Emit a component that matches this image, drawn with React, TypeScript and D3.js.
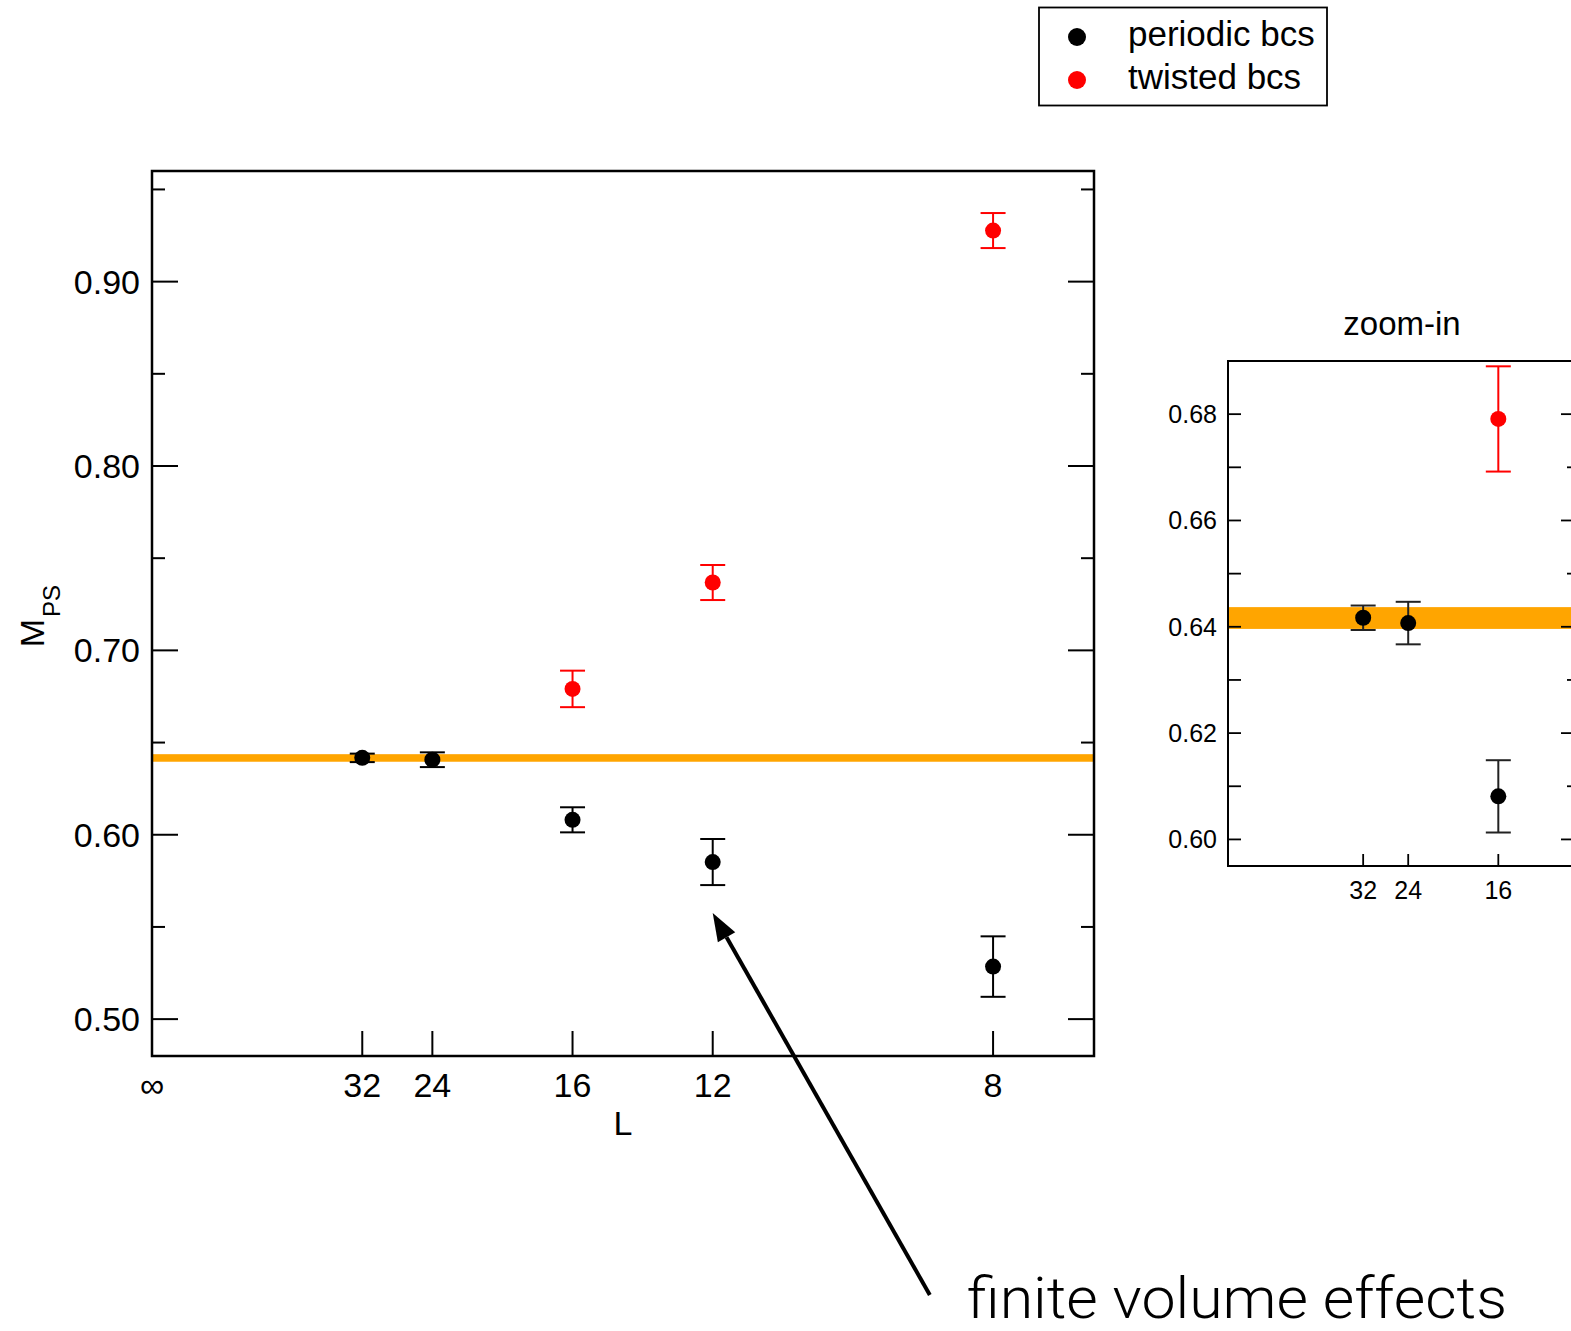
import React from 'react';
import * as d3 from 'd3';

// ---- data ----
const periodicL = [32, 24, 16, 12, 8];
const periodicM = [0.6417, 0.6407, 0.6081, 0.5852, 0.5285];
const periodicErr = [0.0023, 0.004, 0.0068, 0.0125, 0.0164];
const twistedL = [16, 12, 8];
const twistedM = [0.6791, 0.7368, 0.9277];
const twistedErr = [0.0099, 0.0095, 0.0095];
const bandLow = 0.6396;
const bandHigh = 0.6437;
const mainXTicks = [32, 24, 16, 12, 8];
const mainYTicks = [0.5, 0.6, 0.7, 0.8, 0.9];
const mainYMinor = [0.55, 0.65, 0.75, 0.85, 0.95];
const insetXTicks = [32, 24, 16];
const insetYTicks = [0.6, 0.62, 0.64, 0.66, 0.68];
const insetYMinor = [0.61, 0.63, 0.65, 0.67, 0.69];
const legendLabels = ['periodic bcs', 'twisted bcs'];
const legendColors = ['#000000', '#ff0000'];
// annotation arrow in data coords (1/L, M)
const arrowTip = [1 / 12, 0.5576];
const arrowTail = [0.1156, 0.3504];

const FONT = 'Liberation Sans, Arial, Helvetica, sans-serif';

const W = 1571;
const H = 1331;

export default function App() {
  const x = d3.scaleLinear().domain([0, 0.14]).range([152, 1094]);
  const y = d3.scaleLinear().domain([0.48, 0.96]).range([1056, 171]);
  const xi = d3.scaleLinear().domain([0, 0.08]).range([1228, 1574]);
  const yi = d3.scaleLinear().domain([0.595, 0.69]).range([866, 361]);

  const periodic = periodicL.map((L, i) => ({ L, m: periodicM[i], e: periodicErr[i] }));
  const twisted = twistedL.map((L, i) => ({ L, m: twistedM[i], e: twistedErr[i] }));

  const points = (
    xs: d3.ScaleLinear<number, number>,
    ys: d3.ScaleLinear<number, number>,
    data: { L: number; m: number; e: number }[],
    color: string,
    barColor: string,
    key: string
  ) =>
    data.map((d, i) => {
      const cx = xs(1 / d.L);
      const cy = ys(d.m);
      const y1 = ys(d.m + d.e);
      const y2 = ys(d.m - d.e);
      return (
        <g key={key + i}>
          <line x1={cx} x2={cx} y1={y1} y2={y2} stroke={barColor} strokeWidth={2} />
          <line x1={cx - 12.5} x2={cx + 12.5} y1={y1} y2={y1} stroke={barColor} strokeWidth={2} />
          <line x1={cx - 12.5} x2={cx + 12.5} y1={y2} y2={y2} stroke={barColor} strokeWidth={2} />
          <circle cx={cx} cy={cy} r={8} fill={color} />
        </g>
      );
    });

  // arrow geometry
  const tx = x(arrowTip[0]);
  const ty = y(arrowTip[1]);
  const sx = x(arrowTail[0]);
  const sy = y(arrowTail[1]);
  const len = Math.hypot(tx - sx, ty - sy);
  const ux = (tx - sx) / len;
  const uy = (ty - sy) / len;
  const headL = 28;
  const headW = 10;
  const bx = tx - headL * ux;
  const by = ty - headL * uy;
  const px = -uy;
  const py = ux;

  const [x0m, x1m] = x.range();
  const [y0m, y1m] = y.range();
  const [x0i, x1i] = xi.range();
  const [y0i, y1i] = yi.range();

  return (
    <svg
      width={W}
      height={H}
      style={{ position: 'absolute', left: 0, top: 0, background: '#fff' }}
      fontFamily={FONT}
    >
      <defs>
        <clipPath id="mainClip">
          <rect x={x0m} y={y1m} width={x1m - x0m} height={y0m - y1m} />
        </clipPath>
        <clipPath id="insetClip">
          <rect x={x0i} y={y1i} width={x1i - x0i} height={y0i - y1i} />
        </clipPath>
      </defs>
      <rect x={0} y={0} width={W} height={H} fill="#fff" />

      {/* ---------- main panel ---------- */}
      <g clipPath="url(#mainClip)">
        <rect
          x={x0m}
          width={x1m - x0m}
          y={y(bandHigh)}
          height={y(bandLow) - y(bandHigh)}
          fill="#ffa500"
        />
        {points(x, y, periodic, '#000', '#000', 'p')}
        {points(x, y, twisted, '#ff0000', '#ff0000', 't')}
      </g>
      {/* y ticks */}
      {mainYTicks.map((v) => (
        <g key={'my' + v}>
          <line x1={x0m} x2={x0m + 26} y1={y(v)} y2={y(v)} stroke="#000" strokeWidth={2} />
          <line x1={x1m} x2={x1m - 26} y1={y(v)} y2={y(v)} stroke="#000" strokeWidth={2} />
          <text x={x0m - 12} y={y(v) + 12} textAnchor="end" fontSize={34}>
            {v.toFixed(2)}
          </text>
        </g>
      ))}
      {mainYMinor.map((v) => (
        <g key={'mym' + v}>
          <line x1={x0m} x2={x0m + 13} y1={y(v)} y2={y(v)} stroke="#000" strokeWidth={2} />
          <line x1={x1m} x2={x1m - 13} y1={y(v)} y2={y(v)} stroke="#000" strokeWidth={2} />
        </g>
      ))}
      {/* x ticks */}
      {mainXTicks.map((L) => (
        <g key={'mx' + L}>
          <line x1={x(1 / L)} x2={x(1 / L)} y1={y0m} y2={y0m - 25} stroke="#000" strokeWidth={2} />
          <text x={x(1 / L)} y={1097} textAnchor="middle" fontSize={34}>
            {String(L)}
          </text>
        </g>
      ))}
      <text x={x(0)} y={1097} textAnchor="middle" fontSize={34}>
        ∞
      </text>
      <text x={623} y={1135} textAnchor="middle" fontSize={34}>
        L
      </text>
      <text transform="translate(44,633) rotate(-90)" textAnchor="middle" fontSize={34}>
        M
      </text>
      <text transform="translate(60,601) rotate(-90)" textAnchor="middle" fontSize={24}>
        PS
      </text>
      <rect
        x={x0m}
        y={y1m}
        width={x1m - x0m}
        height={y0m - y1m}
        fill="none"
        stroke="#000"
        strokeWidth={2.5}
      />

      {/* ---------- inset panel ---------- */}
      <g clipPath="url(#insetClip)">
        <rect
          x={x0i}
          width={x1i - x0i}
          y={yi(bandHigh)}
          height={yi(bandLow) - yi(bandHigh)}
          fill="#ffa500"
        />
        {points(xi, yi, periodic, '#000', '#222', 'ip')}
        {points(xi, yi, twisted, '#ff0000', '#ff0000', 'it')}
      </g>
      {insetYTicks.map((v) => (
        <g key={'iy' + v}>
          <line x1={x0i} x2={x0i + 13} y1={yi(v)} y2={yi(v)} stroke="#000" strokeWidth={1.8} />
          <line x1={x1i} x2={x1i - 13} y1={yi(v)} y2={yi(v)} stroke="#000" strokeWidth={1.8} />
          <text x={x0i - 11} y={yi(v) + 9} textAnchor="end" fontSize={25}>
            {v.toFixed(2)}
          </text>
        </g>
      ))}
      {insetYMinor.map((v) => (
        <g key={'iym' + v}>
          <line x1={x0i} x2={x0i + 13} y1={yi(v)} y2={yi(v)} stroke="#000" strokeWidth={1.8} />
          <line x1={x1i} x2={x1i - 7} y1={yi(v)} y2={yi(v)} stroke="#000" strokeWidth={1.8} />
        </g>
      ))}
      {insetXTicks.map((L) => (
        <g key={'ix' + L}>
          <line x1={xi(1 / L)} x2={xi(1 / L)} y1={y0i} y2={y0i - 12} stroke="#000" strokeWidth={1.8} />
          <text x={xi(1 / L)} y={899} textAnchor="middle" fontSize={25}>
            {String(L)}
          </text>
        </g>
      ))}
      <rect
        x={x0i}
        y={y1i}
        width={x1i - x0i}
        height={y0i - y1i}
        fill="none"
        stroke="#000"
        strokeWidth={2}
      />
      <text x={1402} y={335} textAnchor="middle" fontSize={33}>
        zoom-in
      </text>

      {/* ---------- legend ---------- */}
      <rect x={1039} y={7.5} width={288} height={98} fill="#fff" stroke="#000" strokeWidth={1.8} />
      {legendLabels.map((lab, i) => (
        <g key={lab}>
          <circle cx={1077} cy={37 + i * 43} r={9} fill={legendColors[i]} />
          <text x={1128} y={46 + i * 43} fontSize={35}>
            {lab}
          </text>
        </g>
      ))}

      {/* ---------- annotation ---------- */}
      <line x1={sx} y1={sy} x2={bx} y2={by} stroke="#000" strokeWidth={4} />
      <polygon
        points={`${tx},${ty} ${bx + headW * px},${by + headW * py} ${bx - headW * px},${by - headW * py}`}
        fill="#000"
      />
      <text
        x={967}
        y={1318}
        fontSize={58}
        fontFamily="Roboto, Liberation Sans, sans-serif"
        fontWeight={300}
        textLength={540}
        lengthAdjust="spacingAndGlyphs"
      >
        finite volume effects
      </text>
    </svg>
  );
}
